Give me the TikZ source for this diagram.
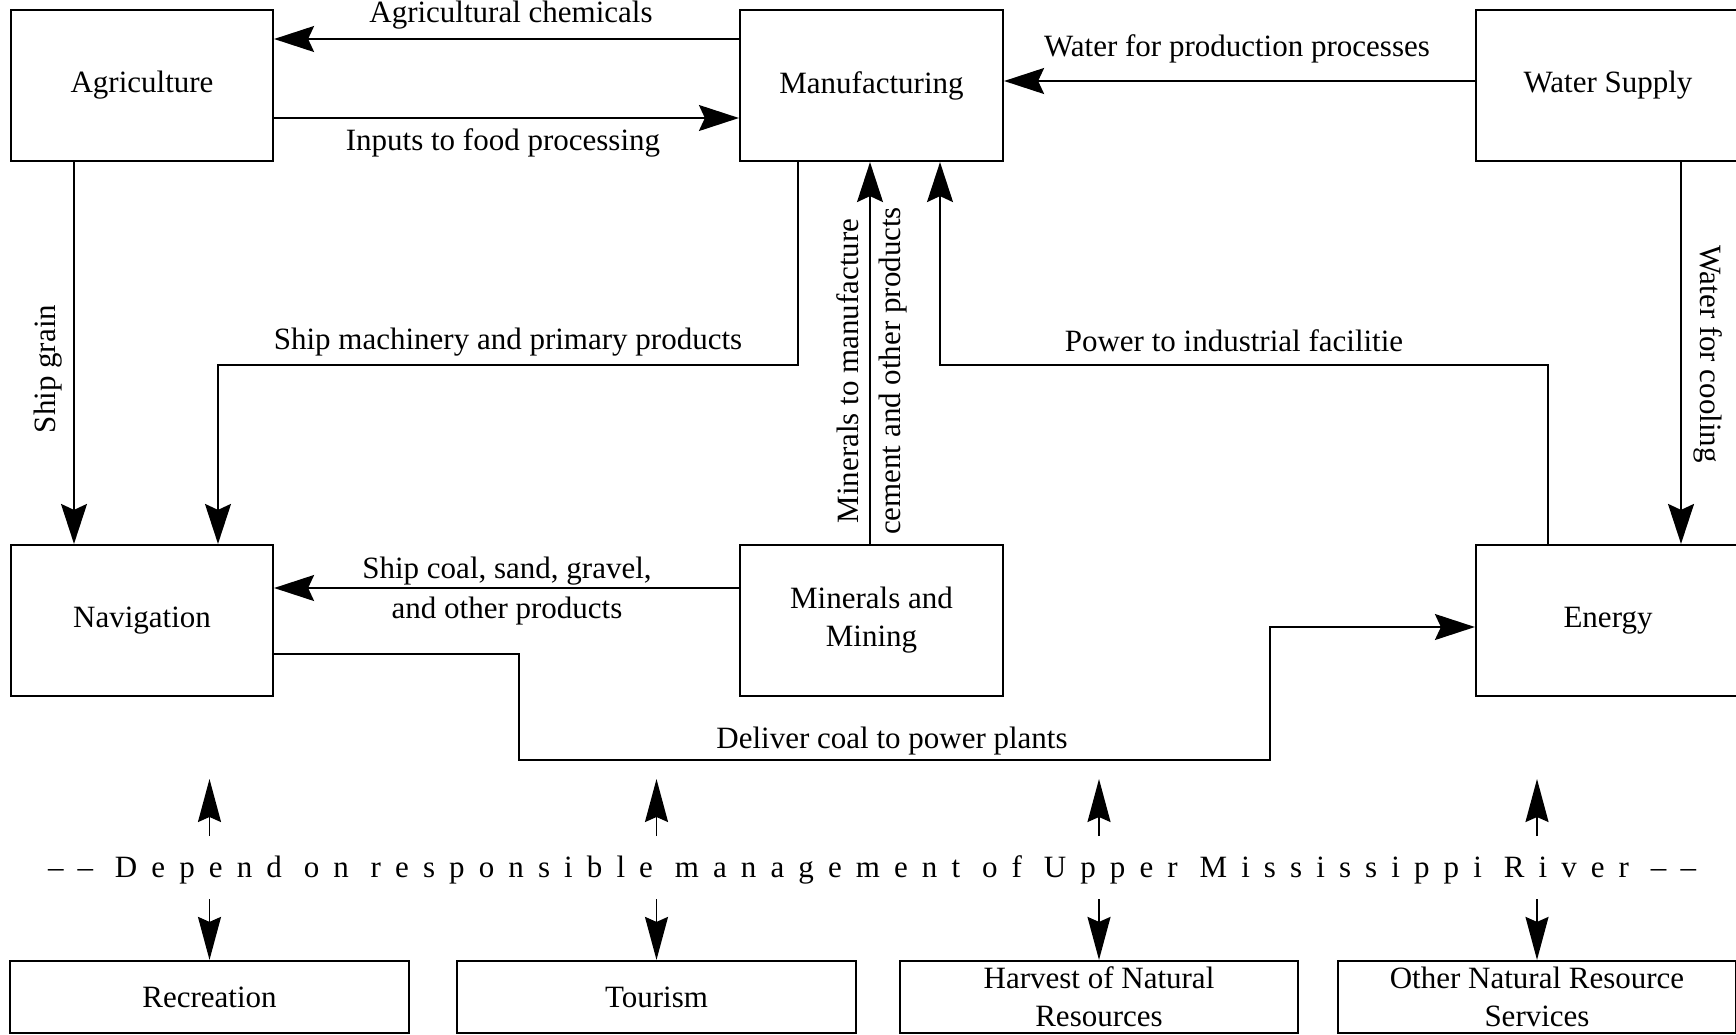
\documentclass[tikz,border=0pt]{standalone}
\usepackage{fontspec}
\setmainfont{Liberation Serif}
\usetikzlibrary{arrows.meta}
\tikzset{
  every node/.style={font=\fontsize{31}{38}\selectfont},
  box/.style={draw, line width=2.2pt, minimum height=151pt, align=center, inner sep=0pt},
  lowbox/.style={draw, line width=2.2pt, minimum height=72pt, align=center, inner sep=0pt},
  arr/.style={line width=1.8pt, -{Stealth[length=40pt,width=26pt,inset=6pt]}},
  arrB/.style={line width=1.8pt, -{Stealth[length=43pt,width=23pt,inset=5pt]}},
  lbl/.style={inner sep=0pt}
}
\begin{document}
\begin{tikzpicture}[x=1pt,y=-1pt]
\useasboundingbox (0,0) rectangle (1736,1034);
\clip (0,0) rectangle (1736,1034);
% boxes
\node[box, minimum width=262pt] (agri) at (142,85.5) {Agriculture};
\node[box, minimum width=263pt] (manu) at (871.5,85.5) {Manufacturing};
\node[box, minimum width=264pt] (water) at (1608,85.5) {Water Supply};
\node[box, minimum width=262pt] (nav) at (142,620.5) {Navigation};
\node[box, minimum width=263pt] (mine) at (871.5,620.5) {Minerals and\\Mining};
\node[box, minimum width=264pt] (energy) at (1608,620.5) {Energy};
\node[lowbox, minimum width=399pt] (rec) at (209.5,997) {Recreation};
\node[lowbox, minimum width=399pt] (tour) at (656.5,997) {Tourism};
\node[lowbox, minimum width=398pt] (harv) at (1099,997) {Harvest of Natural\\Resources};
\node[lowbox, minimum width=398pt] (other) at (1537,997) {Other Natural Resource\\Services};
% connectors
\draw[arr] ([yshift=46.5pt]manu.west) -- ([yshift=46.5pt]agri.east);
\node[lbl] (l1) at (511,15.5) {Agricultural chemicals};
\draw[arr] ([yshift=-32.5pt]agri.east) -- ([yshift=-32.5pt]manu.west);
\node[lbl] (l2) at (503,143) {Inputs to food processing};
\draw[arr] ([yshift=4.5pt]water.west) -- ([yshift=4.5pt]manu.east);
\node[lbl] (l3) at (1237,49) {Water for production processes};
\draw[arr] ([xshift=-68pt]agri.south) -- ([xshift=-68pt]nav.north);
\node[lbl, rotate=90] (l4) at (48,369) {Ship grain};
\coordinate (m1) at (218,365);
\draw[arr] ([xshift=-73.5pt]manu.south) |- (m1) -- ([xshift=76pt]nav.north);
\node[lbl] (l5) at (508,342) {Ship machinery and primary products};
\draw[arr] ([xshift=-1.5pt]mine.north) -- ([xshift=-1.5pt]manu.south);
\node[lbl, rotate=90] (l6) at (848,371) {Minerals to manufacture};
\node[lbl, rotate=90] (l7) at (893,371) {cement and other products};
\coordinate (p1) at (940,365);
\draw[arr] ([xshift=-60pt]energy.north) |- (p1) -- ([xshift=68.5pt]manu.south);
\node[lbl] (l8) at (1234,341) {Power to industrial facilitie};
\draw[arr] ([xshift=73pt]water.south) -- ([xshift=73pt]energy.north);
\node[lbl, rotate=-90] (l9) at (1708,354) {Water for cooling};
\draw[arr] ([yshift=32.5pt]mine.west) -- ([yshift=32.5pt]nav.east);
\node[lbl] (l10) at (507,571) {Ship coal, sand, gravel,};
\node[lbl] (l11) at (507,611) {and other products};
\coordinate (d1) at (519,760);
\coordinate (d2) at (1270,627);
\draw[arr] ([yshift=-33.5pt]nav.east) -| (d1) -| (d2) -- ([yshift=-6.5pt]energy.west);
\node[lbl] (l12) at (892,741) {Deliver coal to power plants};
% bottom
\node[lbl] (dep) at (872,870) {\addfontfeatures{LetterSpace=45.5}\textendash\textendash{} Depend on responsible management of Upper Mississippi River \textendash\textendash};
\foreach \b/\x in {rec/209.5, tour/656.5, harv/1099, other/1537}{
  \coordinate (u\b) at (\x,836);
  \coordinate (v\b) at (\x,779);
  \coordinate (w\b) at (\x,899);
  \draw[arrB] (u\b) -- (v\b);
  \draw[arrB] (w\b) -- (\b.north);
}
\end{tikzpicture}
\end{document}
